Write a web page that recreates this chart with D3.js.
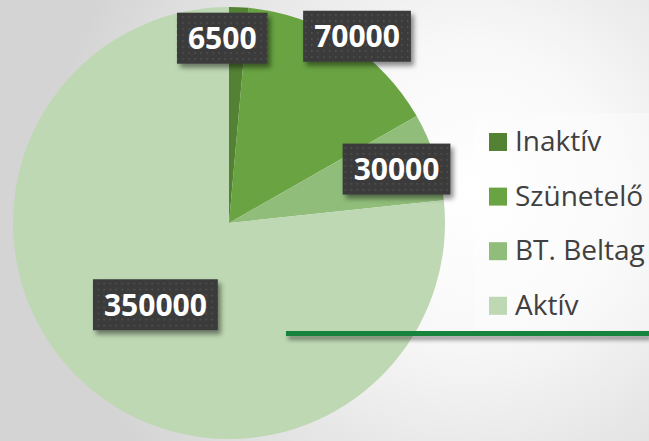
<!DOCTYPE html>
<html><head><meta charset="utf-8">
<script src="https://cdn.jsdelivr.net/npm/d3@7/dist/d3.min.js"></script>
<style>html,body{margin:0;padding:0;overflow:hidden;background:#fff}</style>
</head><body>
<svg id="chart" width="649" height="441"></svg>
<script>
// Data
const categories = ["Inaktív", "Szünetelő", "BT. Beltag", "Aktív"];
const values = [6500, 70000, 30000, 350000];
const colors = ["#548235", "#69a342", "#90bd79", "#bed8b3"];
// label placement (layout only): radius and horizontal nudge per slice
const labelRadius = [185, 222, 176, 110];
const labelNudge = [-15, 8, 0, 0];

const W = 649, H = 441;
const cx = 229, cy = 223, R = 216;
const svg = d3.select("#chart");
const defs = svg.append("defs");

// background radial gradient
const bg = defs.append("radialGradient").attr("id", "bg")
  .attr("gradientUnits", "userSpaceOnUse")
  .attr("cx", 470).attr("cy", 190).attr("r", 420);
bg.append("stop").attr("offset", "0%").attr("stop-color", "#ffffff");
bg.append("stop").attr("offset", "35%").attr("stop-color", "#f8f8f8");
bg.append("stop").attr("offset", "100%").attr("stop-color", "#d4d4d4");
svg.append("rect").attr("width", W).attr("height", H).attr("fill", "url(#bg)");

// label pattern (dotted dark)
const pat = defs.append("pattern").attr("id", "dots")
  .attr("patternUnits", "userSpaceOnUse").attr("width", 6).attr("height", 6);
pat.append("rect").attr("width", 6).attr("height", 6).attr("fill", "#3b3b3b");
pat.append("rect").attr("x", 2).attr("y", 2).attr("width", 1.5).attr("height", 1.5).attr("fill", "#555555");

// drop shadow
const f = defs.append("filter").attr("id", "shadow")
  .attr("x", "-20%").attr("y", "-20%").attr("width", "150%").attr("height", "160%");
f.append("feDropShadow").attr("dx", 3).attr("dy", 4).attr("stdDeviation", 2.5)
  .attr("flood-color", "#000").attr("flood-opacity", 0.45);
const fl = defs.append("filter").attr("id", "lshadow")
  .attr("x", "-5%").attr("y", "-100%").attr("width", "110%").attr("height", "400%");
fl.append("feDropShadow").attr("dx", 2).attr("dy", 4).attr("stdDeviation", 2)
  .attr("flood-color", "#000").attr("flood-opacity", 0.4);

// legend box background
svg.append("rect").attr("x", 474).attr("y", 113).attr("width", W - 474).attr("height", 217)
  .attr("fill", "#ffffff").attr("opacity", 0.35);

// pie
const pie = d3.pie().sort(null).value(d => d)(values);
const arc = d3.arc().innerRadius(0).outerRadius(R);
const g = svg.append("g").attr("transform", `translate(${cx},${cy})`);
g.selectAll("path.slice").data(pie).join("path")
  .attr("class", "slice")
  .attr("d", arc)
  .attr("fill", (d, i) => colors[i]);

// green line
svg.append("rect").attr("x", 286).attr("y", 331).attr("width", W - 286).attr("height", 5)
  .attr("fill", "#12843c").attr("filter", "url(#lshadow)");

// data labels
const lab = g.selectAll("g.lab").data(pie).join("g").attr("class", "lab")
  .attr("transform", (d, i) => {
    const a = (d.startAngle + d.endAngle) / 2;
    const r = labelRadius[i];
    return `translate(${r * Math.sin(a) + labelNudge[i]},${-r * Math.cos(a)})`;
  });
lab.each(function(d, i) {
  const sel = d3.select(this);
  const t = sel.append("text")
    .attr("text-anchor", "middle").attr("dy", "0.36em")
    .attr("font-family", "'Open Sans', sans-serif").attr("font-weight", 700)
    .attr("font-size", 30).attr("fill", "#ffffff")
    .text(values[i]);
  const w = t.node().getComputedTextLength();
  const bw = w + 22, bh = 51;
  sel.insert("rect", "text").attr("x", -bw / 2).attr("y", -bh / 2)
    .attr("width", bw).attr("height", bh)
    .attr("fill", "url(#dots)").attr("filter", "url(#shadow)");
});

// legend
const y0 = 133, step = 54.6;
const leg = svg.append("g").selectAll("g").data(categories).join("g")
  .attr("transform", (d, i) => `translate(489,${y0 + i * step})`);
leg.append("rect").attr("width", 18).attr("height", 18).attr("fill", (d, i) => colors[i]);
leg.append("text").attr("x", 26).attr("y", 18)
  .attr("font-family", "'Open Sans', sans-serif").attr("font-size", 28)
  .attr("fill", "#404040").text(d => d);
</script>
</body></html>
